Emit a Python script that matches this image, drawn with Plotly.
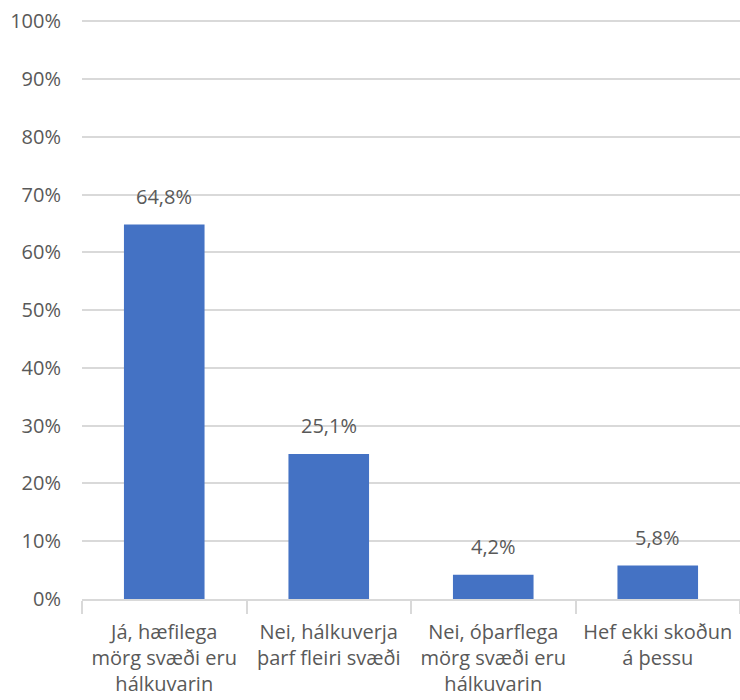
import plotly.graph_objects as go

categories = ["Já, hæfilega<br>mörg svæði eru<br>hálkuvarin",
              "Nei, hálkuverja<br>þarf fleiri svæði",
              "Nei, óþarflega<br>mörg svæði eru<br>hálkuvarin",
              "Hef ekki skoðun<br>á þessu"]
values = [64.8, 25.1, 4.2, 5.8]
labels = [f"{v:.1f}%".replace(".", ",") for v in values]
y_ticks = list(range(0, 101, 10))

font = "Open Sans"
grey = "#595959"

fig = go.Figure(go.Bar(
    x=categories, y=values,
    marker=dict(color="#4472C4", line=dict(width=0)),
))
for c, v, t in zip(categories, values, labels):
    fig.add_annotation(x=c, y=v, text=t, showarrow=False, yanchor="middle",
                       yshift=28, font=dict(family=font, size=20, color=grey))
fig.update_layout(
    width=740, height=700,
    margin=dict(l=82, r=0, t=20, b=101),
    plot_bgcolor="white", paper_bgcolor="white",
    bargap=0.51, showlegend=False,
    font=dict(family=font, color=grey),
)
fig.update_yaxes(range=[0, 100.2], tickvals=y_ticks,
                 ticktext=[f"{t}%" for t in y_ticks],
                 showgrid=True, gridcolor="#D9D9D9", gridwidth=1.5,
                 zeroline=False, showline=False, ticks="",
                 tickfont=dict(family=font, size=20, color=grey),
                 ticklabelstandoff=20, automargin=False)
fig.update_xaxes(showline=True, linecolor="#D9D9D9", linewidth=1.5,
                 ticks="outside", tickson="boundaries", ticklen=13,
                 tickcolor="#D9D9D9", tickwidth=1.5, automargin=False,
                 ticklabelstandoff=14,
                 tickfont=dict(family=font, size=20, color=grey))
fig.write_html("out.html", config={"displayModeBar": False},
               post_script="document.body.style.margin='0';")
